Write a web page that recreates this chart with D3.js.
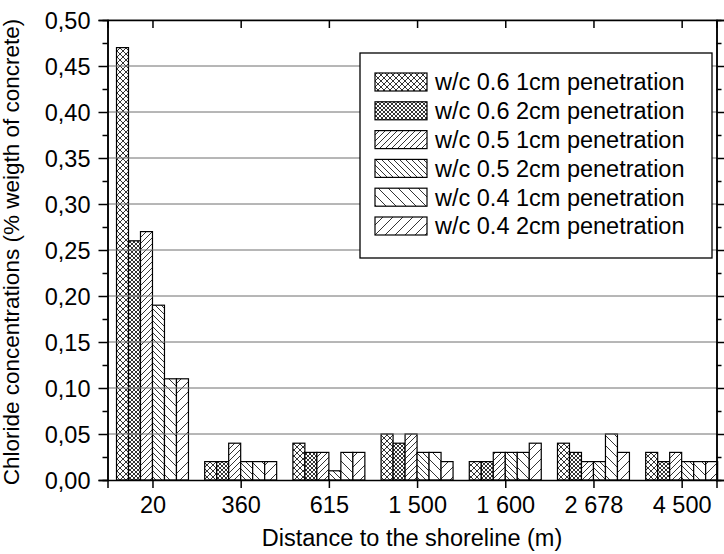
<!DOCTYPE html>
<html>
<head>
<meta charset="utf-8">
<script src="https://cdn.jsdelivr.net/npm/d3@7"></script>
<style>
  body { margin: 0; background: #fff; }
  text { font-family: "Liberation Sans", Arial, sans-serif; fill: #000; }
</style>
</head>
<body>
<div id="chart"></div>
<script>
// distances (category labels)
const distances = ["20", "360", "615", "1 500", "1 600", "2 678", "4 500"];
const seriesNames = [
  "w/c 0.6 1cm penetration",
  "w/c 0.6 2cm penetration",
  "w/c 0.5 1cm penetration",
  "w/c 0.5 2cm penetration",
  "w/c 0.4 1cm penetration",
  "w/c 0.4 2cm penetration"
];
// one array per series, one value per distance
const wc06_1cm = [0.47, 0.02, 0.04, 0.05, 0.02, 0.04, 0.03];
const wc06_2cm = [0.26, 0.02, 0.03, 0.04, 0.02, 0.03, 0.02];
const wc05_1cm = [0.27, 0.04, 0.03, 0.05, 0.03, 0.02, 0.03];
const wc05_2cm = [0.19, 0.02, 0.01, 0.03, 0.03, 0.02, 0.02];
const wc04_1cm = [0.11, 0.02, 0.03, 0.03, 0.03, 0.05, 0.02];
const wc04_2cm = [0.11, 0.02, 0.03, 0.02, 0.04, 0.03, 0.02];
const yTicks = [0, 0.05, 0.10, 0.15, 0.20, 0.25, 0.30, 0.35, 0.40, 0.45, 0.50];

const series = [wc06_1cm, wc06_2cm, wc05_1cm, wc05_2cm, wc04_1cm, wc04_2cm];

const W = 724, H = 554;
const FS = "23.5px";
const svg = d3.select("#chart").append("svg")
  .attr("width", W).attr("height", H);

// hatch patterns
const defs = svg.append("defs");
function hatch(id, p, kind) {
  const pat = defs.append("pattern")
    .attr("id", id)
    .attr("patternUnits", "userSpaceOnUse")
    .attr("width", p).attr("height", p);
  pat.append("rect").attr("width", p).attr("height", p).attr("fill", "#fff");
  const fwd = `M-1,1 l2,-2 M0,${p} l${p},${-p} M${p - 1},${p + 1} l2,-2`;
  const back = `M-1,${p - 1} l2,2 M0,0 l${p},${p} M${p - 1},-1 l2,2`;
  let d = kind === "/" ? fwd : kind === "\\" ? back : fwd + " " + back;
  pat.append("path").attr("d", d)
    .attr("stroke", "#000").attr("stroke-width", 0.8).attr("fill", "none");
}
hatch("p0", 6, "x");
hatch("p1", 4, "x");
hatch("p2", 6, "/");
hatch("p3", 6, "\\");
hatch("p4", 10, "\\");
hatch("p5", 10, "/");

const mLeft = 107.5, mRight = 716.5, mTop = 20, mBottom = 480;
const x = d3.scaleLinear().domain([-0.51, 6.395]).range([mLeft, mRight]);
const y = d3.scaleLinear().domain([0, 0.5]).range([mBottom, mTop]);
const barW = x(0.136) - x(0);

// bars
const g = svg.append("g");
series.forEach((vals, s) => {
  g.selectAll(null)
    .data(vals)
    .enter().append("rect")
    .attr("x", (d, i) => x(i) + (s - 3) * barW)
    .attr("y", d => y(d))
    .attr("width", barW)
    .attr("height", d => y(0) - y(d))
    .attr("fill", `url(#p${s})`)
    .attr("stroke", "#000")
    .attr("stroke-width", 1.2);
});

// grid lines on top of bars
svg.append("g")
  .selectAll("line")
  .data(yTicks.slice(1))
  .enter().append("line")
  .attr("x1", mLeft).attr("x2", mRight)
  .attr("y1", d => y(d)).attr("y2", d => y(d))
  .attr("stroke", "#6e6e6e").attr("stroke-width", 1);

// legend
const lg = svg.append("g");
lg.append("rect")
  .attr("x", 360).attr("y", 53).attr("width", 352).attr("height", 205)
  .attr("fill", "#fff").attr("stroke", "#000").attr("stroke-width", 1.3);
seriesNames.forEach((name, i) => {
  const cy = 82 + i * 28.8;
  lg.append("rect")
    .attr("x", 375).attr("y", cy - 9).attr("width", 52).attr("height", 18)
    .attr("fill", `url(#p${i})`).attr("stroke", "#000").attr("stroke-width", 1.2);
  lg.append("text")
    .attr("x", 435).attr("y", cy).attr("dy", "0.36em")
    .style("font-size", FS)
    .text(name);
});

// axes
const minor = d3.range(0.025, 0.5, 0.05);
const yLeft = svg.append("g").attr("transform", `translate(${mLeft},0)`)
  .call(d3.axisLeft(y).tickValues(yTicks).tickSize(9).tickPadding(8)
    .tickFormat(d => d3.format(".2f")(d).replace(".", ",")));
yLeft.selectAll("text").style("font-size", FS).attr("dy", "0.36em");
svg.append("g").attr("transform", `translate(${mLeft},0)`)
  .call(d3.axisLeft(y).tickValues(minor).tickSize(5).tickFormat(""));

svg.append("g").attr("transform", `translate(${mRight},0)`)
  .call(d3.axisRight(y).tickValues(yTicks).tickSize(8).tickFormat(""));
svg.append("g").attr("transform", `translate(${mRight},0)`)
  .call(d3.axisRight(y).tickValues(minor).tickSize(5).tickFormat(""));

const xAxis = svg.append("g").attr("transform", `translate(0,${mBottom})`)
  .call(d3.axisBottom(x).tickValues(d3.range(distances.length)).tickSize(8).tickPadding(8)
    .tickFormat(i => distances[i]));
xAxis.selectAll("text").style("font-size", FS);

svg.append("g").attr("transform", `translate(0,${mTop})`)
  .call(d3.axisTop(x).tickValues(d3.range(distances.length)).tickSize(-8).tickFormat(""));

svg.selectAll(".domain").attr("stroke", "#000").attr("stroke-width", 1.5);
svg.selectAll(".tick line").attr("stroke", "#000").attr("stroke-width", 1.5);

// titles
svg.append("text")
  .attr("x", 412).attr("y", 546)
  .attr("text-anchor", "middle")
  .style("font-size", FS)
  .text("Distance to the shoreline (m)");
svg.append("text")
  .attr("transform", "translate(19,252) rotate(-90)")
  .attr("text-anchor", "middle")
  .style("font-size", "22.5px")
  .text("Chloride concentrations (% weigth of concrete)");
</script>
</body>
</html>
